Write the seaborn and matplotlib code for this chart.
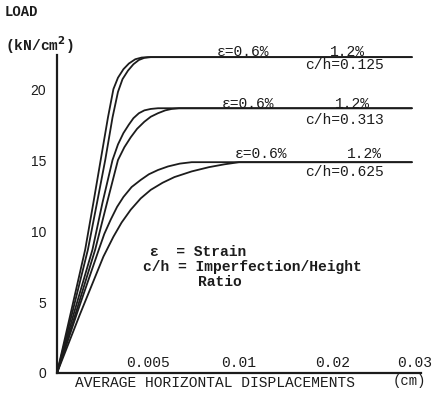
import matplotlib
matplotlib.use("Agg")
import matplotlib.pyplot as plt
import seaborn as sns
import pandas as pd

# ---- data (x in equal-spaced tick units: 1=0.005, 2=0.01, 3=0.02, 4=0.03 cm) ----
x_tick_pos = [1.0, 2.0, 3.03, 3.93]
x_tick_labels = ["0.005", "0.01", "0.02", "0.03"]
y_ticks = [0, 5, 10, 15, 20]

a06_x = [0, 0.15, 0.31, 0.40, 0.48, 0.56, 0.62, 0.67, 0.73, 0.79, 0.86, 0.93, 1.00, 3.90]
a06_y = [0, 4.2, 8.7, 12.0, 15.0, 18.0, 20.0, 20.8, 21.4, 21.8, 22.1, 22.22, 22.25, 22.25]
a12_x = [0, 0.17, 0.34, 0.44, 0.53, 0.61, 0.67, 0.72, 0.78, 0.84, 0.90, 0.96, 1.03, 3.90]
a12_y = [0, 4.3, 8.7, 12.0, 15.0, 18.0, 19.8, 20.7, 21.3, 21.75, 22.05, 22.2, 22.25, 22.25]
b06_x = [0, 0.19, 0.39, 0.50, 0.61, 0.67, 0.73, 0.79, 0.84, 0.90, 0.96, 1.03, 1.11, 3.90]
b06_y = [0, 4.3, 8.7, 12.0, 15.0, 16.1, 16.9, 17.5, 17.95, 18.3, 18.5, 18.6, 18.65, 18.65]
b12_x = [0, 0.21, 0.42, 0.55, 0.67, 0.74, 0.81, 0.88, 0.96, 1.03, 1.11, 1.19, 1.26, 1.34, 3.90]
b12_y = [0, 4.3, 8.7, 12.0, 15.0, 15.9, 16.6, 17.2, 17.7, 18.05, 18.3, 18.5, 18.6, 18.65, 18.65]
c06_x = [0, 0.23, 0.46, 0.52, 0.59, 0.66, 0.73, 0.82, 0.92, 1.01, 1.11, 1.22, 1.35, 1.48, 3.90]
c06_y = [0, 4.4, 8.7, 9.8, 10.8, 11.7, 12.4, 13.1, 13.6, 14.0, 14.3, 14.55, 14.75, 14.85, 14.85]
c12_x = [0, 0.25, 0.51, 0.62, 0.71, 0.81, 0.92, 1.03, 1.16, 1.29, 1.48, 1.67, 1.84, 2.00, 3.90]
c12_y = [0, 4.1, 8.2, 9.6, 10.6, 11.5, 12.3, 12.9, 13.4, 13.8, 14.2, 14.5, 14.7, 14.85, 14.85]

curves = {
    "A06": (a06_x, a06_y), "A12": (a12_x, a12_y),
    "B06": (b06_x, b06_y), "B12": (b12_x, b12_y),
    "C06": (c06_x, c06_y), "C12": (c12_x, c12_y),
}
rows = []
for name, (xs, ys) in curves.items():
    for i, (xv, yv) in enumerate(zip(xs, ys)):
        rows.append({"curve": name, "x": xv, "y": yv, "i": i})
df = pd.DataFrame(rows)

sns.set_style("white")
MONO = ["Liberation Mono", "DejaVu Sans Mono"]
INK = "#1c1c1c"

W, H = 434, 396
fig = plt.figure(figsize=(W / 100, H / 100), dpi=100)
ox, oy = 57, 373
ax = fig.add_axes([ox / W, 1 - oy / H, (421 - ox) / W, (oy - 55) / H])

sns.lineplot(data=df, x="x", y="y", units="curve", estimator=None, sort=False,
             color=INK, linewidth=1.3, ax=ax, legend=False)

ax.set_xlim(0, 4.0)
ax.set_ylim(0, 22.4)
for s in ["top", "right"]:
    ax.spines[s].set_visible(False)
for s in ["left", "bottom"]:
    ax.spines[s].set_color(INK)
    ax.spines[s].set_linewidth(1.6)

ax.set_xticks(x_tick_pos)
ax.set_xticklabels(x_tick_labels, family=MONO, fontsize=10.5, color=INK)
ax.tick_params(axis="x", length=0, pad=-12)
ax.set_yticks(y_ticks)
ax.set_yticklabels([str(v) for v in y_ticks], family="Liberation Sans", fontsize=10, color=INK)
ax.tick_params(axis="y", direction="out", length=3, width=1, color=INK, pad=5)
ax.set_xlabel("")
ax.set_ylabel("")

def px(x, y):
    return ((x - ox) / 91.0, (oy - y) / 14.2)

labels = [
    (217, 52, "ε=0.6%"), (330, 52, "1.2%"), (305, 65, "c/h=0.125"),
    (222, 104, "ε=0.6%"), (335, 104, "1.2%"), (305, 120, "c/h=0.313"),
    (235, 154, "ε=0.6%"), (347, 154, "1.2%"), (305, 172, "c/h=0.625"),
]
for lx, ly, t in labels:
    dx, dy = px(lx, ly)
    ax.text(dx, dy, t, family=MONO, fontsize=10.5, color=INK, ha="left", va="center", clip_on=False)

for lx, ly, t in [(150, 252, "ε  = Strain"), (143, 267, "c/h = Imperfection/Height"), (198, 282, "Ratio")]:
    dx, dy = px(lx, ly)
    ax.text(dx, dy, t, family=MONO, fontsize=10.5, color=INK, ha="left", va="center", fontweight="bold")

fig.text(5 / W, 1 - 12 / H, "LOAD", family=MONO, fontsize=10, fontweight="bold", color=INK, va="center")
fig.text(5 / W, 1 - 45 / H, "(kN/cm$^\\mathbf{2}$)", family=MONO, fontsize=10.5, fontweight="bold", color=INK, va="center")
fig.text(75 / W, 1 - 383 / H, "AVERAGE HORIZONTAL DISPLACEMENTS", family=MONO, fontsize=10.5, color=INK, va="center")
fig.text(393 / W, 1 - 381 / H, "(cm)", family=MONO, fontsize=10, color=INK, va="center")

fig.savefig("out.png", dpi=100, facecolor="white")
